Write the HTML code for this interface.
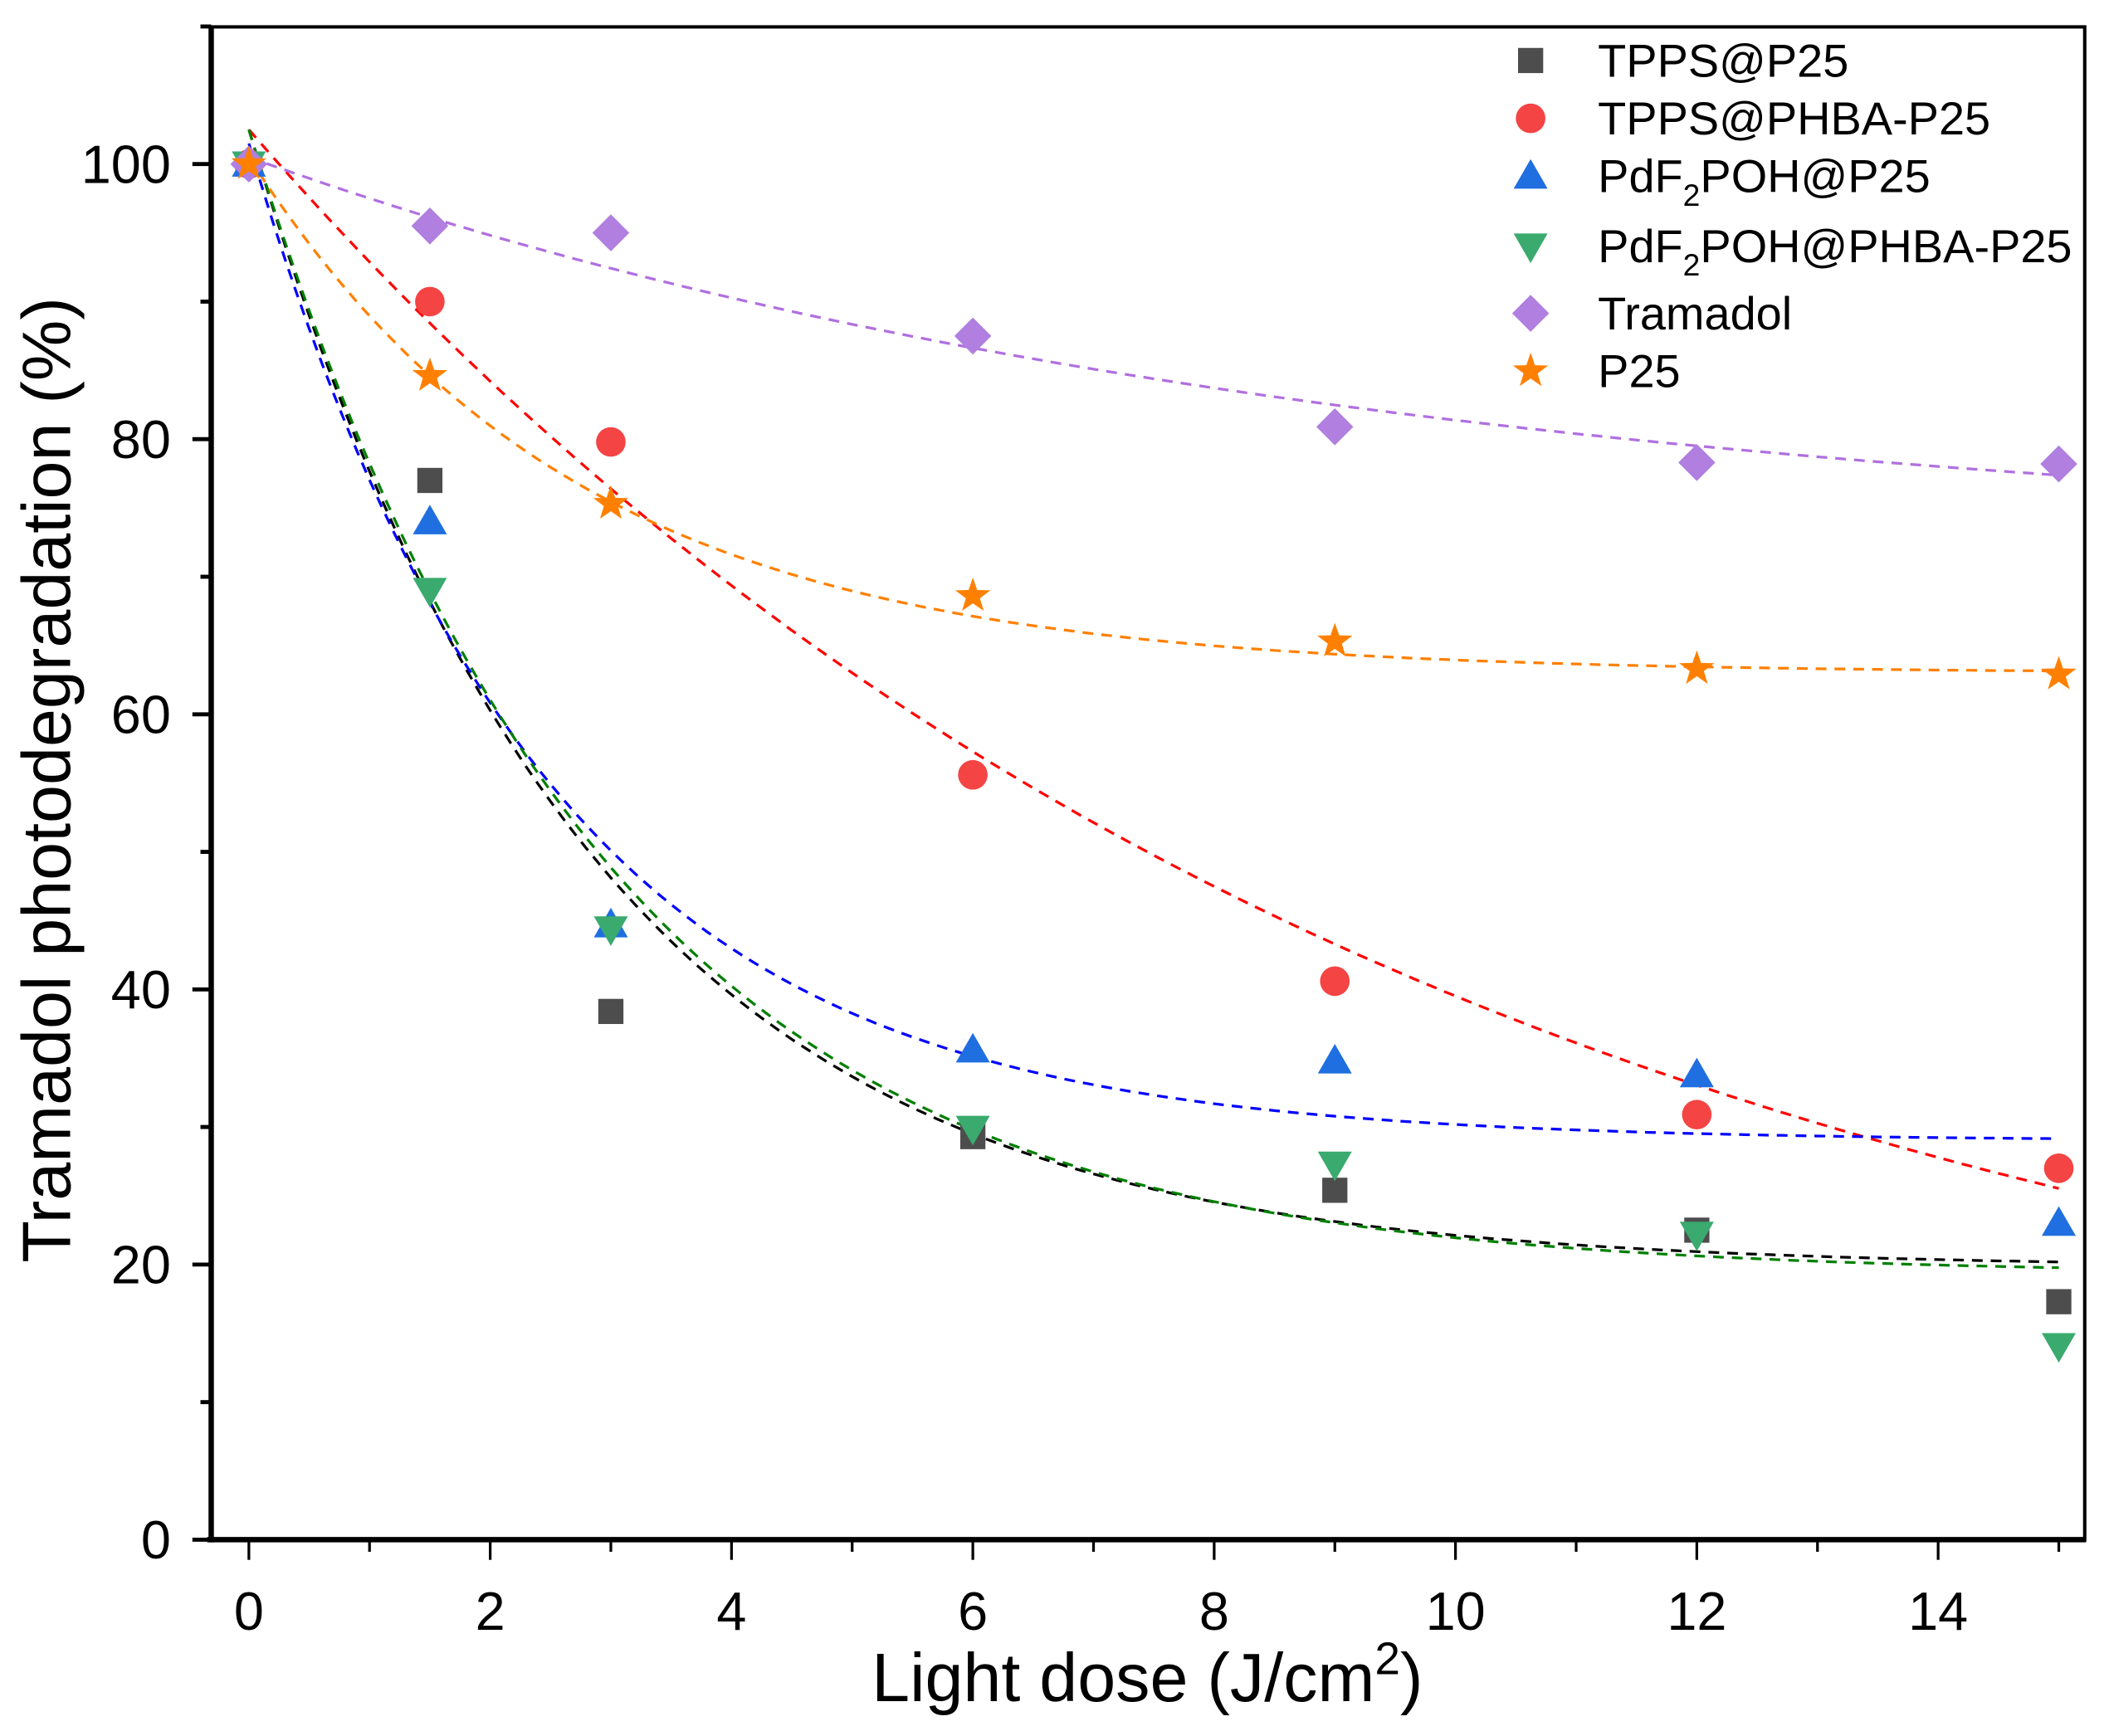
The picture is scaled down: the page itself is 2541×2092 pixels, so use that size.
<!DOCTYPE html>
<html><head><meta charset="utf-8">
<style>
html,body{margin:0;padding:0;background:#fff;}
svg{display:block;font-family:"Liberation Sans",Arial,sans-serif;}
</style></head>
<body>
<svg id="chart" width="2541" height="2092" viewBox="0 0 1568 1291" xmlns="http://www.w3.org/2000/svg">
<g id="axes"></g>
<g id="fits"></g>
<g id="marks"></g>
<g id="legend"></g>
<text x="853" y="1265" font-size="51" text-anchor="middle">Light dose (J/cm<tspan dy="-20" font-size="34">2</tspan><tspan dy="20">)</tspan></text>
<text transform="translate(52,580) rotate(-90)" font-size="51" text-anchor="middle">Tramadol photodegradation (%)</text>
</svg>
<script>
const xValues = [0, 1.5, 3, 6, 9, 12, 15];
const seriesNames = ["TPPS@P25", "TPPS@PHBA-P25", "PdF2POH@P25", "PdF2POH@PHBA-P25", "Tramadol", "P25"];
const tppsP25 = [100, 77, 38.4, 29.3, 25.4, 22.5, 17.3];
const tppsPhba = [100, 90, 79.8, 55.6, 40.6, 30.9, 27];
const pdfP25 = [100, 74, 44.7, 35.6, 34.8, 33.8, 23];
const pdfPhba = [100, 69, 44.4, 29.9, 27.3, 22.2, 14.1];
const tramadol = [100, 95.5, 95, 87.5, 80.9, 78.3, 78.2];
const p25 = [100, 84.6, 75.3, 68.6, 65.3, 63.3, 62.9];
// exponential fit parameters: [y0, A, t]
const fitTppsP25 = [19.8, 82.7, 2.8];
const fitTppsPhba = [5, 97.5, 9.63];
const fitPdfP25 = [29, 72.5, 2.43];
const fitPdfPhba = [19.3, 83.2, 2.9];
const fitTramadol = [72, 28.5, 9.0];
const fitP25 = [63, 37.5, 2.72];
const xTicks = [0, 2, 4, 6, 8, 10, 12, 14];
const yTicks = [0, 20, 40, 60, 80, 100];

const NS = "http://www.w3.org/2000/svg";
const L = 157, R = 1550, T = 20, B = 1145;
const X = v => 185 + (v - 0) * (1441 - 185) / 14;
const Y = v => 1145 - v * (1145 - 122) / 100;
function mk(tag, attrs, parent) {
  const e = document.createElementNS(NS, tag);
  for (const k in attrs) e.setAttribute(k, attrs[k]);
  parent.appendChild(e);
  return e;
}
const axes = document.getElementById('axes');
let e;
e = mk('rect', {x: L, y: T, width: R - L, height: B - T, fill: 'none', stroke: '#000', 'stroke-width': 2.5}, axes);


e = mk('line', {x1: L - 3, y1: B, x2: R + 1, y2: B, stroke: '#000', 'stroke-width': 4}, axes);


e = mk('line', {x1: L, y1: T - 1, x2: L, y2: B + 2, stroke: '#000', 'stroke-width': 4}, axes);


for (let v = 0; v <= 15; v++) {
  const major = v % 2 === 0;
  e = mk('line', {x1: X(v), y1: B, x2: X(v), y2: B + (major ? 15 : 9), stroke: '#000', 'stroke-width': 2}, axes);
  
  
}
xTicks.forEach(v => {
  e = mk('text', {x: X(v), y: 1212, 'font-size': 40, 'text-anchor': 'middle'}, axes);
  e.textContent = v;
  
  
});
for (let v = 0; v <= 110; v += 10) {
  const major = v % 20 === 0;
  e = mk('line', {x1: L, y1: Y(v), x2: L - (major ? 14 : 8), y2: Y(v), stroke: '#000', 'stroke-width': 3}, axes);
  
  
}
yTicks.forEach(v => {
  e = mk('text', {x: 127, y: Y(v) + 14, 'font-size': 40, 'text-anchor': 'end'}, axes);
  e.textContent = v;
  
  
});

const colors = ['#4d4d4d', '#f44444', '#1f6fe0', '#3aaa6e', '#b07fe0', '#ff8000'];
const fitColors = ['#000', '#f00', '#0000ff', '#008000', '#b070e0', '#ff8000'];
const allData = [tppsP25, tppsPhba, pdfP25, pdfPhba, tramadol, p25];
const allFits = [fitTppsP25, fitTppsPhba, fitPdfP25, fitPdfPhba, fitTramadol, fitP25];
const shapes = ['square', 'circle', 'up', 'down', 'diamond', 'star'];

const fits = document.getElementById('fits');
allFits.forEach((p, i) => {
  let d = '';
  for (let k = 0; k <= 150; k++) {
    const x = k * 0.1;
    const y = p[0] + p[1] * Math.exp(-x / p[2]);
    d += (k ? 'L' : 'M') + X(x).toFixed(1) + ',' + Y(y).toFixed(1);
  }
  e = mk('path', {d: d, fill: 'none', stroke: fitColors[i], 'stroke-width': 2, 'stroke-dasharray': '8,6'}, fits);
  
  
});

function marker(shape, cx, cy, s, col, parent) {
  let el;
  if (shape === 'square') el = mk('rect', {x: cx - s * 0.85, y: cy - s * 0.85, width: s * 1.7, height: s * 1.7, fill: col}, parent);
  else if (shape === 'circle') el = mk('circle', {cx: cx, cy: cy, r: s, fill: col}, parent);
  else if (shape === 'up') el = mk('polygon', {points: `${cx},${cy - s * 1.15} ${cx + s * 1.15},${cy + s * 0.85} ${cx - s * 1.15},${cy + s * 0.85}`, fill: col}, parent);
  else if (shape === 'down') el = mk('polygon', {points: `${cx},${cy + s * 1.15} ${cx + s * 1.15},${cy - s * 0.85} ${cx - s * 1.15},${cy - s * 0.85}`, fill: col}, parent);
  else if (shape === 'diamond') el = mk('polygon', {points: `${cx},${cy - s * 1.25} ${cx + s * 1.25},${cy} ${cx},${cy + s * 1.25} ${cx - s * 1.25},${cy}`, fill: col}, parent);
  else {
    let pts = '';
    for (let k = 0; k < 10; k++) {
      const a = -Math.PI / 2 + k * Math.PI / 5;
      const r = k % 2 ? s * 0.5 : s * 1.25;
      pts += (cx + r * Math.cos(a)).toFixed(1) + ',' + (cy + r * Math.sin(a)).toFixed(1) + ' ';
    }
    el = mk('polygon', {points: pts, fill: col}, parent);
  }
  return el;
}
const marks = document.getElementById('marks');
allData.forEach((arr, i) => {
  arr.forEach((v, j) => {
    e = marker(shapes[i], X(xValues[j]), Y(v), 11, colors[i], marks);
    
    
  });
});

const legend = document.getElementById('legend');
const legY = [45, 88, 131, 183, 233, 276];
seriesNames.forEach((n, i) => {
  e = marker(shapes[i], 1138, legY[i], 11, colors[i], legend);
  
  
  const t = mk('text', {x: 1188, y: legY[i] + 12, 'font-size': 34.5}, legend);
  
  
  if (n.startsWith('PdF2')) {
    t.appendChild(document.createTextNode('PdF'));
    const sub = mk('tspan', {dy: 10, 'font-size': 23}, t);
    sub.textContent = '2';
    const rest = mk('tspan', {dy: -10}, t);
    rest.textContent = n.slice(4);
  } else t.textContent = n;
});
</script>
</body></html>
